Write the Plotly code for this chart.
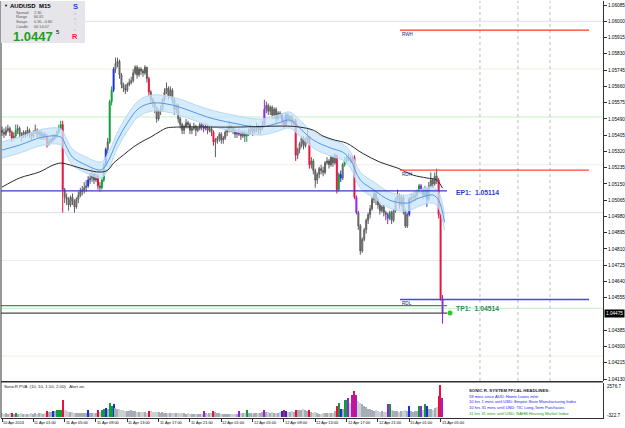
import plotly.graph_objects as go

# ---------------------------------------------------------------- data
symbol = "AUDUSD"
timeframe = "M15"
first_open = 1.0543

closes = [
    1.0542, 1.0541, 1.0543, 1.0544, 1.0542, 1.0539, 1.0540, 1.0543, 1.0544, 1.0541,
    1.0540, 1.0542, 1.0541, 1.0543, 1.0541, 1.0540, 1.0542, 1.0543, 1.0541, 1.0542,
    1.0540, 1.0541, 1.0540, 1.0536, 1.0537, 1.0538, 1.0539, 1.0540, 1.0542, 1.0544,
    1.0546, 1.0512, 1.0508, 1.0507, 1.0504, 1.0508, 1.0506, 1.0503, 1.0507, 1.0509,
    1.0511, 1.0512, 1.0513, 1.0514, 1.0517, 1.0518, 1.0520, 1.0517, 1.0519, 1.0514,
    1.0513, 1.0517, 1.0525, 1.0533, 1.0537, 1.0558, 1.0564, 1.0575, 1.0578, 1.0579,
    1.0572, 1.0567, 1.0565, 1.0564, 1.0567, 1.0568, 1.0569, 1.0573, 1.0576, 1.0572,
    1.0575, 1.0574, 1.0573, 1.0576, 1.0570, 1.0563, 1.0559, 1.0557, 1.0555, 1.0549,
    1.0553, 1.0554, 1.0559, 1.0563, 1.0565, 1.0561, 1.0564, 1.0559, 1.0554, 1.0556,
    1.0549, 1.0546, 1.0543, 1.0545, 1.0547, 1.0546, 1.0543, 1.0544, 1.0545, 1.0543,
    1.0544, 1.0546, 1.0545, 1.0544, 1.0545, 1.0543, 1.0544, 1.0542, 1.0537, 1.0538,
    1.0539, 1.0541, 1.0538, 1.0539, 1.0542, 1.0543, 1.0545, 1.0544, 1.0543, 1.0541,
    1.0542, 1.0541, 1.0540, 1.0542, 1.0540, 1.0541, 1.0543, 1.0544, 1.0542, 1.0544,
    1.0545, 1.0543, 1.0544, 1.0546, 1.0554, 1.0556, 1.0553, 1.0555, 1.0551, 1.0554,
    1.0549, 1.0552, 1.0551, 1.0548, 1.0546, 1.0551, 1.0549, 1.0550, 1.0547, 1.0548,
    1.0530, 1.0533, 1.0536, 1.0539, 1.0535, 1.0538, 1.0540, 1.0525, 1.0527, 1.0522,
    1.0517, 1.0520, 1.0523, 1.0522, 1.0521, 1.0526, 1.0527, 1.0525, 1.0529, 1.0526,
    1.0530, 1.0512, 1.0520, 1.0518, 1.0525, 1.0527, 1.0529, 1.0528, 1.0527, 1.0529,
    1.0508, 1.0500, 1.0493, 1.0480, 1.0486, 1.0491, 1.0496, 1.0499, 1.0502, 1.0507,
    1.0510, 1.0507, 1.0504, 1.0501, 1.0503, 1.0500, 1.0499, 1.0497, 1.0500, 1.0496,
    1.0501, 1.0507, 1.0509, 1.0504, 1.0508, 1.0501, 1.0493, 1.0499, 1.0507, 1.0508,
    1.0508, 1.0509, 1.0511, 1.0514, 1.0512, 1.0509, 1.0512, 1.0507, 1.0514, 1.0517,
    1.0515, 1.0519, 1.0517, 1.0499, 1.0455, 1.04475,
]

highs = [
    1.0545, 1.0544, 1.0545, 1.0546, 1.0545, 1.0543, 1.0542, 1.0546, 1.0546, 1.0545,
    1.0542, 1.0543, 1.0543, 1.0545, 1.0544, 1.0542, 1.0543, 1.0546, 1.0544, 1.0543,
    1.0543, 1.0542, 1.0542, 1.0541, 1.0539, 1.0539, 1.0541, 1.0541, 1.0543, 1.0546,
    1.0548, 1.0548, 1.0513, 1.0510, 1.0508, 1.0509, 1.0510, 1.0507, 1.0508, 1.0511,
    1.0513, 1.0514, 1.0516, 1.0517, 1.0519, 1.0521, 1.0523, 1.0521, 1.0521, 1.0520,
    1.0516, 1.0518, 1.0526, 1.0534, 1.0539, 1.0559, 1.0566, 1.0576, 1.0581, 1.0581,
    1.0580, 1.0573, 1.0568, 1.0567, 1.0568, 1.0570, 1.0571, 1.0575, 1.0577, 1.0577,
    1.0576, 1.0576, 1.0575, 1.0577, 1.0576, 1.0571, 1.0564, 1.0560, 1.0558, 1.0555,
    1.0554, 1.0556, 1.0560, 1.0565, 1.0568, 1.0566, 1.0566, 1.0565, 1.0560, 1.0557,
    1.0557, 1.0550, 1.0547, 1.0546, 1.0549, 1.0548, 1.0547, 1.0545, 1.0547, 1.0546,
    1.0545, 1.0547, 1.0547, 1.0546, 1.0547, 1.0546, 1.0545, 1.0545, 1.0543, 1.0539,
    1.0540, 1.0542, 1.0542, 1.0540, 1.0543, 1.0545, 1.0548, 1.0546, 1.0545, 1.0544,
    1.0543, 1.0544, 1.0543, 1.0543, 1.0543, 1.0542, 1.0544, 1.0546, 1.0545, 1.0545,
    1.0547, 1.0546, 1.0545, 1.0548, 1.0559, 1.0558, 1.0557, 1.0556, 1.0556, 1.0555,
    1.0555, 1.0553, 1.0553, 1.0552, 1.0550, 1.0552, 1.0552, 1.0551, 1.0551, 1.0549,
    1.0549, 1.0534, 1.0537, 1.0540, 1.0540, 1.0539, 1.0544, 1.0540, 1.0529, 1.0528,
    1.0523, 1.0521, 1.0524, 1.0525, 1.0524, 1.0527, 1.0529, 1.0528, 1.0530, 1.0530,
    1.0531, 1.0530, 1.0521, 1.0522, 1.0526, 1.0529, 1.0530, 1.0531, 1.0530, 1.0530,
    1.0530, 1.0509, 1.0501, 1.0494, 1.0487, 1.0492, 1.0497, 1.0500, 1.0504, 1.0508,
    1.0512, 1.0511, 1.0508, 1.0505, 1.0504, 1.0504, 1.0501, 1.0500, 1.0501, 1.0501,
    1.0502, 1.0508, 1.0512, 1.0510, 1.0509, 1.0509, 1.0502, 1.0500, 1.0508, 1.0510,
    1.0510, 1.0511, 1.0512, 1.0515, 1.0515, 1.0513, 1.0514, 1.0513, 1.0516, 1.0521,
    1.0518, 1.0521, 1.0523, 1.0518, 1.0500, 1.0457,
]

lows = [
    1.0540, 1.0539, 1.0540, 1.0542, 1.0540, 1.0537, 1.0538, 1.0539, 1.0541, 1.0539,
    1.0537, 1.0539, 1.0539, 1.0540, 1.0539, 1.0538, 1.0539, 1.0541, 1.0539, 1.0539,
    1.0538, 1.0538, 1.0538, 1.0534, 1.0535, 1.0536, 1.0537, 1.0538, 1.0539, 1.0541,
    1.0543, 1.0500, 1.0505, 1.0504, 1.0501, 1.0503, 1.0504, 1.0500, 1.0502, 1.0505,
    1.0508, 1.0509, 1.0510, 1.0511, 1.0513, 1.0515, 1.0516, 1.0515, 1.0516, 1.0512,
    1.0511, 1.0512, 1.0516, 1.0524, 1.0531, 1.0536, 1.0556, 1.0563, 1.0573, 1.0576,
    1.0570, 1.0565, 1.0563, 1.0562, 1.0563, 1.0566, 1.0567, 1.0568, 1.0572, 1.0570,
    1.0571, 1.0572, 1.0571, 1.0572, 1.0568, 1.0561, 1.0557, 1.0555, 1.0552, 1.0547,
    1.0548, 1.0551, 1.0553, 1.0558, 1.0562, 1.0559, 1.0560, 1.0557, 1.0551, 1.0552,
    1.0547, 1.0544, 1.0541, 1.0541, 1.0544, 1.0544, 1.0541, 1.0541, 1.0543, 1.0540,
    1.0542, 1.0543, 1.0543, 1.0542, 1.0543, 1.0541, 1.0542, 1.0540, 1.0535, 1.0529,
    1.0536, 1.0537, 1.0536, 1.0536, 1.0538, 1.0540, 1.0542, 1.0542, 1.0541, 1.0539,
    1.0539, 1.0540, 1.0538, 1.0539, 1.0537, 1.0537, 1.0540, 1.0541, 1.0540, 1.0541,
    1.0542, 1.0541, 1.0541, 1.0543, 1.0545, 1.0552, 1.0551, 1.0551, 1.0549, 1.0549,
    1.0547, 1.0548, 1.0549, 1.0546, 1.0544, 1.0545, 1.0547, 1.0547, 1.0545, 1.0545,
    1.0527, 1.0528, 1.0531, 1.0534, 1.0533, 1.0534, 1.0536, 1.0523, 1.0523, 1.0520,
    1.0513, 1.0515, 1.0518, 1.0520, 1.0519, 1.0520, 1.0525, 1.0523, 1.0524, 1.0524,
    1.0525, 1.0510, 1.0511, 1.0516, 1.0517, 1.0524, 1.0526, 1.0527, 1.0526, 1.0526,
    1.0507, 1.0499, 1.0491, 1.0478, 1.0479, 1.0485, 1.0489, 1.0494, 1.0497, 1.0501,
    1.0505, 1.0504, 1.0502, 1.0499, 1.0500, 1.0498, 1.0496, 1.0494, 1.0496, 1.0494,
    1.0495, 1.0500, 1.0506, 1.0502, 1.0503, 1.0499, 1.0492, 1.0492, 1.0498, 1.0505,
    1.0506, 1.0506, 1.0507, 1.0510, 1.0510, 1.0507, 1.0508, 1.0503, 1.0506, 1.0513,
    1.0513, 1.0514, 1.0515, 1.0497, 1.0454, 1.0442,
]

volumes = [
    250, 220, 280, 200, 260, 330, 240, 300, 230, 200,
    250, 210, 180, 240, 220, 260, 200, 250, 230, 280,
    260, 240, 300, 450, 380, 350, 480, 420, 520, 560,
    500, 1330, 500, 420, 380, 350, 400, 330, 300, 280,
    320, 260, 300, 280, 500, 330, 300, 280, 260, 500,
    350, 500, 600, 700, 600, 1080, 900, 1000, 700, 600,
    620, 550, 500, 480, 450, 420, 500, 460, 430, 400,
    380, 350, 400, 360, 330, 480, 420, 380, 350, 400,
    360, 330, 380, 300, 320, 280, 300, 260, 330, 300,
    280, 260, 300, 250, 230, 260, 220, 200, 240, 210,
    230, 200, 220, 420, 250, 230, 260, 280, 450, 380,
    300, 260, 240, 220, 200, 230, 210, 190, 220, 200,
    240, 480, 260, 280, 300, 560, 280, 260, 240, 300,
    280, 260, 300, 350, 500, 400, 380, 330, 350, 300,
    330, 320, 350, 480, 500, 480, 400, 380, 420, 400,
    580, 500, 520, 560, 600, 520, 480, 500, 350, 300,
    380, 250, 220, 200, 250, 300, 280, 330, 250, 300,
    420, 830, 1080, 660, 650, 1400, 1400, 1500, 1150, 1800,
    2150, 1800, 1250, 1100, 1000, 850, 750, 650, 600, 500,
    450, 500, 420, 400, 450, 380, 400, 1000, 1000, 500,
    450, 420, 480, 400, 450, 420, 500, 450, 900, 420,
    400, 450, 480, 900, 830, 500, 1000, 830, 600, 650,
    550, 700, 750, 1700, 2576.7, 1570,
]

# PVA colour class of the coloured candles / volume bars (others are grey)
pva_class = {
    5: "red", 7: "green", 23: "red", 26: "blue", 28: "green", 29: "green", 30: "green",
    31: "red", 44: "blue", 49: "red", 51: "green", 52: "green", 53: "blue", 55: "green",
    56: "green", 57: "blue", 75: "red", 103: "purple", 108: "red", 121: "purple",
    125: "green", 134: "purple", 143: "blue", 144: "red", 145: "blue", 150: "red",
    157: "red", 171: "red", 172: "green", 173: "blue", 175: "green", 176: "green",
    177: "purple", 179: "purple", 180: "red", 181: "purple", 197: "purple", 198: "green",
    208: "blue", 213: "green", 214: "purple", 216: "green", 217: "blue", 223: "red",
    224: "red", 225: "purple",
}

# slow moving average (black) read at sample bars
ma_slow_bars = [0, 9, 19, 26, 30, 35, 42, 50, 54, 57, 62, 67, 72, 76, 81, 84, 89, 118,
                146, 152, 159, 164, 170, 176, 184, 193, 202, 210, 217, 222, 225]
ma_slow_vals = [1.05133, 1.05181, 1.05212, 1.05248, 1.05259, 1.05248, 1.05227, 1.05212,
                1.05222, 1.05259, 1.05301, 1.05342, 1.05374, 1.05395, 1.05426, 1.05442,
                1.05447, 1.05447, 1.05452, 1.05447, 1.05431, 1.05400, 1.05379, 1.05363,
                1.05311, 1.05264, 1.05233, 1.05196, 1.05181, 1.05170, 1.05128]

# fast EMA band (blue) read at sample bars
band_bars = [0, 9, 21, 30, 33, 36, 43, 50, 52, 55, 59, 64, 70, 77, 87, 95, 105, 118, 132,
             141, 147, 152, 159, 168, 174, 178, 183, 190, 198, 207, 213, 220, 223, 226]
band_mid = [1.05327, 1.05353, 1.05395, 1.05395, 1.05342, 1.05290, 1.05248, 1.05222,
            1.05233, 1.05285, 1.05379, 1.05468, 1.05546, 1.05573, 1.05562, 1.05536,
            1.05499, 1.05468, 1.05447, 1.05468, 1.05484, 1.05442, 1.05379, 1.05337,
            1.05316, 1.05275, 1.05170, 1.05118, 1.05065, 1.05050, 1.05076, 1.05092,
            1.05065, 1.04950]
band_upper = [1.05369, 1.05395, 1.05437, 1.05437, 1.05384, 1.05332, 1.05290, 1.05264,
              1.05275, 1.05327, 1.05421, 1.05510, 1.05588, 1.05615, 1.05604, 1.05578,
              1.05541, 1.05510, 1.05489, 1.05510, 1.05526, 1.05484, 1.05421, 1.05379,
              1.05358, 1.05317, 1.05212, 1.05160, 1.05107, 1.05092, 1.05118, 1.05134,
              1.05107, 1.04992]
band_lower = [1.05285, 1.05311, 1.05353, 1.05353, 1.05300, 1.05248, 1.05206, 1.05180,
              1.05191, 1.05243, 1.05337, 1.05426, 1.05504, 1.05531, 1.05520, 1.05494,
              1.05457, 1.05426, 1.05405, 1.05426, 1.05442, 1.05400, 1.05337, 1.05295,
              1.05274, 1.05233, 1.05128, 1.05076, 1.05023, 1.05008, 1.05034, 1.05050,
              1.05023, 1.04908]

# time axis
time_label_bars = [0, 16, 32, 48, 64, 80, 96, 112, 128, 144, 160, 176, 192, 208, 224]
time_labels = ["10 Apr 2013", "11 Apr 01:00", "11 Apr 05:00", "11 Apr 09:00", "11 Apr 13:00",
               "11 Apr 17:00", "11 Apr 21:00", "12 Apr 01:00", "12 Apr 05:00", "12 Apr 09:00",
               "12 Apr 13:00", "12 Apr 17:00", "12 Apr 21:00", "15 Apr 01:00", "15 Apr 05:00"]

# price axis
price_ticks = [1.06085, 1.06000, 1.05915, 1.05830, 1.05745, 1.05660, 1.05575, 1.05490,
               1.05405, 1.05320, 1.05235, 1.05150, 1.05065, 1.04980, 1.04895, 1.04810,
               1.04725, 1.04640, 1.04555, 1.04385, 1.04300, 1.04215, 1.04130]
price_tick_text = ["1.06085", "1.06000", "1.05915", "1.05830", "1.05745", "1.05660", "1.05575",
                   "1.05490", "1.05405", "1.05320", "1.05235", "1.05150", "1.05065", "1.04980",
                   "1.04895", "1.04810", "1.04725", "1.04640", "1.04555", "1.04385", "1.04300",
                   "1.04215", "1.04130"]
bid_price = 1.04475
bid_text = "1.04475"

# levels
round_levels = [1.0600, 1.0575, 1.0550, 1.0525, 1.0500, 1.0475, 1.0450, 1.0425]
round_level_colors = ["#dcdcf6", "#eef2dc", "#c4eec4", "#f1ece6", "#dcdcf6", "#f1ece6",
                      "#c4eec4", "#f4f0d8"]
range_levels = {"RWH": 1.05954, "RDH": 1.05222, "RDL": 1.04546}
range_level_colors = {"RWH": "#ff3a1c", "RDH": "#ff4a2c", "RDL": "#4646ee"}
range_start_bar, range_end_bar = 203.3, 299.8
ep1_price, tp1_price = 1.05114, 1.04514
trade_end_bar = 227.3
bid_dot_bar = 228.8
news_bars = [244.1, 263.5, 279.9]

vol_max_text, vol_min_text = "2576.7", "-322.7"
pva_title = "SonicR PVA  (10, 10, 1.50, 2.00)   Alert on."
headline_title = "SONIC R. SYSTEM FFCAL HEADLINES:"
headlines = [("59 mins since AUD: Home Loans m/m", "#1a1aff"),
             ("10 hrs 1 mins until USD: Empire State Manufacturing Index", "#1a1aff"),
             ("10 hrs 31 mins until USD: TIC Long-Term Purchases", "#1a1aff"),
             ("11 hrs 31 mins until USD: NAHB Housing Market Index", "#1a9a1a")]
info_rows = [("Spread", "2.30"), ("Range", "60.81"), ("Swaps", "0.30, -0.60"),
             ("Candle", "00:14:07")]
big_price_main, big_price_last = "1.0447", "5"

assert len(closes) == len(highs) == len(lows) == len(volumes) == 226

# ---------------------------------------------------------------- geometry helpers
W, H = 625, 428
PL, PR, PT, PB = 1, 603, 1, 418


def px(x):
    return (x - PL) / (PR - PL)


def py(y):
    return (PB - y) / (PB - PT)


FONT = "Liberation Sans"
COL = {"red": "#e8113c", "green": "#109c3c", "blue": "#1a2ee6", "purple": "#9b1ee6"}

bars = list(range(len(closes)))
opens = [first_open] + closes[:-1]

fig = go.Figure()

# EMA band
fig.add_trace(go.Scatter(x=band_bars, y=band_lower, mode="lines",
                         line=dict(color="#b6daf6", width=1, shape="spline"),
                         hoverinfo="skip", yaxis="y"))
fig.add_trace(go.Scatter(x=band_bars, y=band_upper, mode="lines", fill="tonexty",
                         fillcolor="rgba(200,228,250,0.75)",
                         line=dict(color="#b6daf6", width=1, shape="spline"),
                         hoverinfo="skip", yaxis="y"))
fig.add_trace(go.Scatter(x=band_bars, y=band_mid, mode="lines",
                         line=dict(color="#4d98e6", width=1, shape="spline"),
                         hoverinfo="skip", yaxis="y"))
fig.add_trace(go.Scatter(x=ma_slow_bars, y=ma_slow_vals, mode="lines",
                         line=dict(color="#2a2a2a", width=1, shape="spline"),
                         hoverinfo="skip", yaxis="y"))


def candle(cls, line_c, up_fill, dn_fill):
    sel = [pva_class.get(i) == cls for i in bars]
    pick = lambda arr: [v if s else None for v, s in zip(arr, sel)]
    return go.Candlestick(
        x=bars, open=pick(opens), high=pick(highs), low=pick(lows), close=pick(closes),
        increasing=dict(line=dict(color=line_c, width=1), fillcolor=up_fill),
        decreasing=dict(line=dict(color=line_c, width=1), fillcolor=dn_fill),
        whiskerwidth=0, hoverinfo="skip", yaxis="y", xaxis="x")


fig.add_trace(candle(None, "#5c5c5c", "#bdbdbd", "#858585"))
for c in ["red", "green", "blue", "purple"]:
    fig.add_trace(candle(c, COL[c], COL[c], COL[c]))

# volume (PVA)
vcol = []
for i in bars:
    c = pva_class.get(i)
    if c:
        vcol.append(COL[c])
    else:
        vcol.append("#a5adb5" if closes[i] >= opens[i] else "#ccd0d5")
fig.add_trace(go.Bar(x=bars, y=volumes, marker=dict(color=vcol, line=dict(width=0)),
                     width=0.62, xaxis="x", yaxis="y2", hoverinfo="skip"))

# bid dot
fig.add_trace(go.Scatter(x=[bid_dot_bar], y=[bid_price], mode="markers",
                         marker=dict(color="#22cc22", size=5), yaxis="y", hoverinfo="skip"))

shapes = []
# round-number levels
for lv, c in zip(round_levels, round_level_colors):
    shapes.append(dict(type="line", xref="paper", x0=0, x1=1, yref="y", y0=lv, y1=lv,
                       line=dict(color=c, width=1), layer="below"))
# news event markers
for b in news_bars:
    shapes.append(dict(type="line", xref="x", x0=b, x1=b, yref="paper", y0=py(381), y1=1,
                       line=dict(color="#bdbdbd", width=1, dash="dot"), layer="below"))
# daily / weekly range lines
for name, lv in range_levels.items():
    shapes.append(dict(type="line", xref="x", x0=range_start_bar, x1=range_end_bar,
                       yref="y", y0=lv, y1=lv,
                       line=dict(color=range_level_colors[name], width=1.3)))
# trade lines
shapes.append(dict(type="line", xref="paper", x0=0, xref2=None, x1=px(2 + 1.958 * trade_end_bar),
                   yref="y", y0=ep1_price, y1=ep1_price,
                   line=dict(color="#3c3cbc", width=1.2)) if False else
              dict(type="line", xref="x", x0=-1, x1=trade_end_bar, yref="y",
                   y0=ep1_price, y1=ep1_price, line=dict(color="#3c3cbc", width=1.2)))
shapes.append(dict(type="line", xref="x", x0=-1, x1=trade_end_bar, yref="y",
                   y0=tp1_price, y1=tp1_price, line=dict(color="#3a9060", width=1.2)))
shapes.append(dict(type="line", xref="x", x0=-1, x1=trade_end_bar, yref="y",
                   y0=bid_price, y1=bid_price, line=dict(color="#4a4a4a", width=1.2)))
# frame pieces
shapes.append(dict(type="line", xref="paper", yref="paper", x0=0, x1=0, y0=0, y1=1,
                   line=dict(color="#303030", width=1)))
shapes.append(dict(type="line", xref="paper", yref="paper", x0=0, x1=1, y0=py(381.8),
                   y1=py(381.8), line=dict(color="#303030", width=1.4)))
# info panel
shapes.append(dict(type="rect", xref="paper", yref="paper", x0=0, x1=px(85), y0=py(43),
                   y1=py(1), fillcolor="#e6e6ea", line=dict(width=0), layer="above"))

ann = []


def txt(x, y, s, size, color="black", bold=False, xanchor="left", yanchor="middle", **kw):
    a = dict(xref="paper", yref="paper", x=px(x), y=py(y), text=("<b>%s</b>" % s) if bold else s,
             showarrow=False, xanchor=xanchor, yanchor=yanchor,
             font=dict(family=FONT, size=size, color=color), borderpad=0)
    a.update(kw)
    ann.append(a)


# time labels
for b, s in zip(time_label_bars, time_labels):
    ann.append(dict(xref="x", yref="paper", x=b, y=0, text=s, showarrow=False,
                    xanchor="left", yanchor="top", yshift=-1, xshift=0, borderpad=0,
                    font=dict(family=FONT, size=3.9, color="black")))
# bid label on the price axis
ann.append(dict(xref="paper", yref="y", x=1, y=bid_price, text=bid_text, showarrow=False,
                xanchor="left", yanchor="middle", xshift=1, bgcolor="black", borderpad=1,
                font=dict(family=FONT, size=4.7, color="white")))
# level labels
for name, lv in range_levels.items():
    ann.append(dict(xref="x", yref="y", x=range_start_bar + 0.6, y=lv, text=name,
                    showarrow=False, xanchor="left", yanchor="top", yshift=-0.5, borderpad=0,
                    font=dict(family=FONT, size=4.6, color="#1c1c70")))
ann.append(dict(xref="x", yref="y", x=trade_end_bar + 4, y=ep1_price,
                text="<b>EP1:  %.5f</b>" % ep1_price, showarrow=False, xanchor="left",
                yanchor="middle", yshift=-2, borderpad=0,
                font=dict(family=FONT, size=6.8, color="#2a3ec4")))
ann.append(dict(xref="x", yref="y", x=trade_end_bar + 4, y=tp1_price,
                text="<b>TP1:  %.5f</b>" % tp1_price, showarrow=False, xanchor="left",
                yanchor="middle", yshift=-3, borderpad=0,
                font=dict(family=FONT, size=6.8, color="#2e8b57")))

# volume panel labels
txt(3, 386.5, pva_title, 4.3, "#202020")
txt(606, 386.5, vol_max_text, 4.6, "black")
txt(606, 415.5, vol_min_text, 4.6, "black")
txt(468, 390, headline_title, 4.3, "#1a1a3a", bold=True)
for k, (s, c) in enumerate(headlines):
    txt(468, 396 + 5.7 * k, s, 4.1, c)

# info panel text
txt(2.5, 5.5, "▼", 4, "black")
txt(9, 6, "%s  %s" % (symbol, timeframe), 6, "black", bold=True)
for k, (lab, val) in enumerate(info_rows):
    yy = 12.7 + 4.7 * k
    txt(15, yy, lab, 3.8, "#555555")
    txt(33, yy, val, 3.8, "#555555")
txt(12, 36.5, big_price_main, 13, "#1e9e1e", bold=True)
txt(54.5, 32.5, big_price_last, 6, "black")
txt(75, 6, "S", 7.5, "#2040ff", bold=True, xanchor="center")
for k, ch in enumerate("onic"):
    txt(75, 13.5 + 5.2 * k, ch, 4.2, "#d9a3b5", xanchor="center")
txt(75, 36.5, "R", 7.5, "#ff1040", bold=True, xanchor="center")

x_lo = -1 / 1.958
x_hi = x_lo + (PR - PL) / 1.958

fig.update_layout(
    width=W, height=H,
    margin=dict(l=PL, r=W - PR, t=PT, b=H - PB, pad=0),
    paper_bgcolor="white", plot_bgcolor="white",
    showlegend=False, hovermode=False, bargap=0,
    xaxis=dict(range=[x_lo, x_hi], anchor="y2", domain=[0, 1], showgrid=False,
               zeroline=False, showticklabels=False, tickvals=time_label_bars,
               ticks="outside", ticklen=3, tickcolor="#303030", showline=True,
               linecolor="#303030", linewidth=1, rangeslider=dict(visible=False),
               fixedrange=True),
    yaxis=dict(domain=[py(381), 1], range=[1.04120, 1.06106], side="right",
               tickvals=price_ticks, ticktext=price_tick_text, ticks="outside",
               ticklen=3, tickcolor="#303030",
               tickfont=dict(family=FONT, size=4.7, color="black"), showgrid=False,
               zeroline=False, showline=True, linecolor="#303030", linewidth=1,
               fixedrange=True),
    yaxis2=dict(domain=[0, py(383)], range=[-124, 2775], side="right", anchor="x",
                showticklabels=False, ticks="", showgrid=False, zeroline=False,
                showline=True, linecolor="#303030", linewidth=1, fixedrange=True),
    shapes=shapes, annotations=ann,
)

fig.write_html("out.html")
